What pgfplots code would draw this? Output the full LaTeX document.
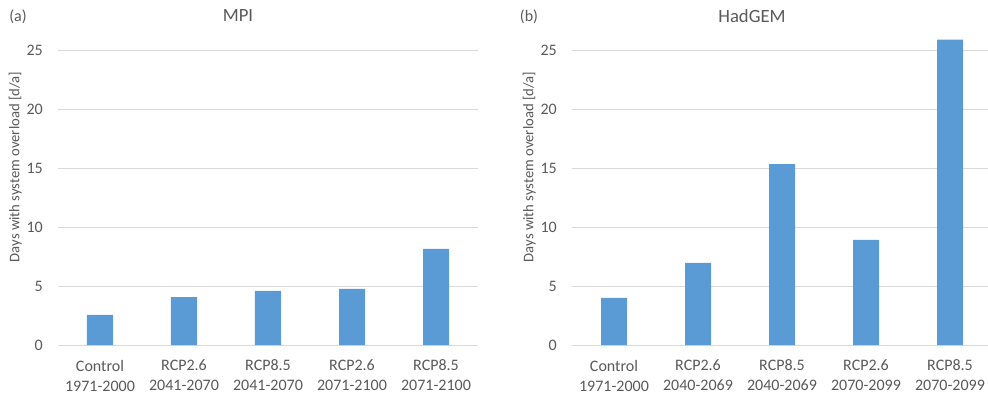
\documentclass[border=0pt]{standalone}
\usepackage{fontspec}
\setmainfont{Carlito}
\usepackage{pgfplots}
\pgfplotsset{compat=1.18}
\definecolor{barc}{HTML}{5B9BD5}
\definecolor{txt}{HTML}{595959}
\definecolor{gridc}{HTML}{D9D9D9}
\pgfplotsset{mystyle/.style={
  scale only axis, height=230.1bp,
  anchor=south west,
  ymin=0, ymax=26, xmin=-0.5,
  axis line style={draw=none},
  major tick length=0pt,
  ymajorgrids, grid style={gridc, line width=0.75bp},
  ytick={0,5,10,15,20,25},
  xtick={0,1,2,3,4},
  tick label style={font=\fontsize{12bp}{15bp}\selectfont, text=txt},
  yticklabel style={inner sep=0pt, xshift=-11.25bp},
  xticklabel style={align=center, inner sep=0pt, yshift=-11bp},
  /pgf/number format/assume math mode=true,
  clip=false,
}}
\begin{document}
\begin{tikzpicture}
\useasboundingbox (0,0) rectangle (741bp,299.25bp);
\begin{axis}[mystyle, at={(43.5bp,40.5bp)}, width=315bp, xmax=4.5,
  xticklabels={{Control\\1971-2000},{RCP2.6\\2041-2070},{RCP8.5\\2041-2070},{RCP2.6\\2071-2100},{RCP8.5\\2071-2100}}]
\addplot[ybar, bar width=19.5bp, fill=barc, draw=none] coordinates {(0,2.55) (1,4.05) (2,4.58) (3,4.75) (4,8.14)};
\end{axis}
\begin{axis}[mystyle, at={(429bp,40.5bp)}, width=311.85bp, xmax=4.45,
  xticklabels={{Control\\1971-2000},{RCP2.6\\2040-2069},{RCP8.5\\2040-2069},{RCP2.6\\2070-2099},{RCP8.5\\2070-2099}}]
\addplot[ybar, bar width=19.5bp, fill=barc, draw=none] coordinates {(0,4.0) (1,6.97) (2,15.33) (3,8.9) (4,25.87)};
\end{axis}
\node[text=txt, font=\fontsize{12bp}{14bp}\selectfont] at (13.5bp,286.5bp) {(a)};
\node[text=txt, font=\fontsize{14bp}{16bp}\selectfont] at (178.5bp,287.5bp) {MPI};
\node[text=txt, font=\fontsize{12bp}{14bp}\selectfont] at (396.75bp,286.5bp) {(b)};
\node[text=txt, font=\fontsize{14bp}{16bp}\selectfont] at (564bp,287.5bp) {HadGEM};
\node[text=txt, rotate=90, font=\fontsize{11bp}{13bp}\selectfont] at (11.5bp,174bp) {Days with system overload [d/a]};
\node[text=txt, rotate=90, font=\fontsize{11bp}{13bp}\selectfont] at (397bp,174bp) {Days with system overload [d/a]};
\end{tikzpicture}
\end{document}
